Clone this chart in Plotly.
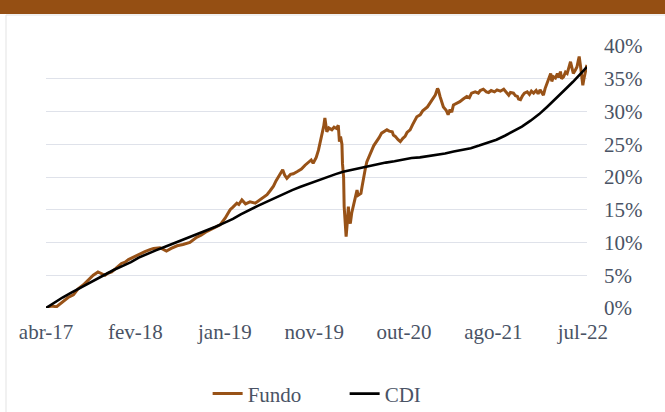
import pandas as pd
import plotly.graph_objects as go

# ---------------- data ----------------
tick_labels = ["abr-17", "fev-18", "jan-19", "nov-19", "out-20", "ago-21", "jul-22"]
tick_dates = ["2017-04-03", "2018-02-17", "2019-01-03", "2019-11-19",
              "2020-10-05", "2021-08-21", "2022-07-07"]

cdi_dates = ["2017-04-03", "2017-05-01", "2017-06-01", "2017-07-01", "2017-08-01", "2017-09-01",
             "2017-10-01", "2017-11-01", "2017-12-01", "2018-01-01", "2018-02-01", "2018-03-01",
             "2018-04-01", "2018-05-01", "2018-06-01", "2018-07-01", "2018-08-01", "2018-09-01",
             "2018-10-01", "2018-11-01", "2018-12-01", "2019-01-01", "2019-02-01", "2019-03-01",
             "2019-04-01", "2019-05-01", "2019-06-01", "2019-07-01", "2019-08-01", "2019-09-01",
             "2019-10-01", "2019-11-01", "2019-12-01", "2020-01-01", "2020-02-01", "2020-03-01",
             "2020-04-01", "2020-05-01", "2020-06-01", "2020-07-01", "2020-08-01", "2020-09-01",
             "2020-10-01", "2020-11-01", "2020-12-01", "2021-01-01", "2021-02-01", "2021-03-01",
             "2021-04-01", "2021-05-01", "2021-06-01", "2021-07-01", "2021-08-01", "2021-09-01",
             "2021-10-01", "2021-11-01", "2021-12-01", "2022-01-01", "2022-02-01", "2022-03-01",
             "2022-04-01", "2022-05-01", "2022-06-01", "2022-07-01", "2022-07-22"]
cdi_values = [0.0, 0.8, 1.6, 2.3, 3.0, 3.8, 4.5, 5.1, 5.8, 6.4, 7.0, 7.7,
              8.3, 8.8, 9.3, 9.8, 10.3, 10.8, 11.3, 11.8, 12.4, 13.0, 13.6, 14.3,
              15.0, 15.6, 16.2, 16.8, 17.4, 18.0, 18.5, 19.0, 19.5, 20.0, 20.4, 20.8,
              21.1, 21.4, 21.6, 21.9, 22.2, 22.4, 22.7, 22.9, 23.0, 23.2, 23.4, 23.6,
              23.9, 24.1, 24.4, 24.8, 25.2, 25.7, 26.3, 27.0, 27.7, 28.6, 29.6, 30.7,
              31.9, 33.2, 34.5, 35.9, 36.8]

fundo_dates = ["2017-04-03", "2017-04-21", "2017-05-11", "2017-06-02", "2017-06-21", "2017-07-10",
               "2017-07-26", "2017-08-14", "2017-08-31", "2017-09-19", "2017-10-06", "2017-10-20",
               "2017-10-31", "2017-11-10", "2017-11-24", "2017-12-08", "2017-12-29", "2018-01-11",
               "2018-01-23", "2018-02-12", "2018-03-05", "2018-03-23", "2018-04-10", "2018-04-23",
               "2018-05-16", "2018-05-28", "2018-06-08", "2018-06-25", "2018-07-16", "2018-08-06",
               "2018-08-31", "2018-09-24", "2018-10-10", "2018-10-31", "2018-11-22", "2018-12-17",
               "2019-01-04", "2019-01-22", "2019-02-01", "2019-02-15", "2019-02-22", "2019-03-05",
               "2019-03-18", "2019-04-03", "2019-04-22", "2019-05-09", "2019-05-20", "2019-06-03",
               "2019-06-14", "2019-06-26", "2019-07-05", "2019-07-15", "2019-07-23", "2019-07-29",
               "2019-08-05", "2019-08-13", "2019-08-26", "2019-09-05", "2019-09-18", "2019-10-04",
               "2019-10-17", "2019-10-29", "2019-11-08", "2019-11-15", "2019-11-26", "2019-12-04",
               "2019-12-10", "2019-12-16", "2019-12-23", "2019-12-27", "2020-01-02", "2020-01-03",
               "2020-01-10", "2020-01-21", "2020-01-29", "2020-02-07", "2020-02-13", "2020-02-17",
               "2020-02-21", "2020-02-26", "2020-02-28", "2020-03-03", "2020-03-05", "2020-03-09",
               "2020-03-12", "2020-03-16", "2020-03-20", "2020-03-23", "2020-03-27", "2020-04-01",
               "2020-04-07", "2020-04-14", "2020-04-20", "2020-04-24", "2020-05-04", "2020-05-08",
               "2020-05-12", "2020-05-19", "2020-05-25", "2020-06-01", "2020-06-05", "2020-06-12",
               "2020-06-19", "2020-06-30", "2020-07-08", "2020-07-17", "2020-07-27", "2020-08-05",
               "2020-08-13", "2020-08-24", "2020-08-28", "2020-09-04", "2020-09-14", "2020-09-22",
               "2020-10-01", "2020-10-09", "2020-10-16", "2020-10-27", "2020-11-05", "2020-11-13",
               "2020-11-20", "2020-12-02", "2020-12-11", "2020-12-28", "2021-01-07", "2021-01-15",
               "2021-01-25", "2021-02-02", "2021-02-05", "2021-02-11", "2021-02-17", "2021-02-23",
               "2021-03-05", "2021-03-12", "2021-03-19", "2021-03-25", "2021-03-31", "2021-04-12",
               "2021-04-23", "2021-05-05", "2021-05-18", "2021-05-27", "2021-06-04", "2021-06-17",
               "2021-06-28", "2021-07-05", "2021-07-16", "2021-07-27", "2021-08-04", "2021-08-13",
               "2021-08-25", "2021-09-03", "2021-09-15", "2021-09-27", "2021-10-05", "2021-10-15",
               "2021-10-21", "2021-11-01", "2021-11-08", "2021-11-15", "2021-11-19", "2021-11-26",
               "2021-12-03", "2021-12-10", "2021-12-20", "2021-12-28", "2022-01-04", "2022-01-12",
               "2022-01-21", "2022-01-28", "2022-02-04", "2022-02-10", "2022-02-16", "2022-02-22",
               "2022-03-01", "2022-03-08", "2022-03-14", "2022-03-18", "2022-03-24", "2022-03-31",
               "2022-04-07", "2022-04-12", "2022-04-18", "2022-04-22", "2022-04-29", "2022-05-06",
               "2022-05-12", "2022-05-18", "2022-05-24", "2022-05-30", "2022-06-03", "2022-06-10",
               "2022-06-16", "2022-06-21", "2022-06-24", "2022-06-28", "2022-07-01", "2022-07-05",
               "2022-07-07", "2022-07-11", "2022-07-15", "2022-07-20", "2022-07-22"]
fundo_values = [0.0, 0.3, 0.2, 1.0, 1.6, 2.0,
                2.9, 3.5, 4.2, 5.0, 5.5, 5.2,
                5.0, 5.3, 5.5, 6.0, 6.8, 7.0,
                7.4, 7.8, 8.3, 8.6, 8.9, 9.1,
                9.2, 8.9, 8.7, 9.1, 9.5, 9.7,
                10.0, 10.8, 11.1, 11.7, 12.2, 12.7,
                13.7, 15.0, 15.4, 16.0, 15.8, 16.5,
                15.9, 16.2, 16.0, 16.5, 16.8, 17.3,
                17.9, 18.6, 19.4, 20.2, 20.6, 21.1,
                20.3, 19.8, 20.4, 20.5, 20.8, 21.2,
                21.8, 22.3, 22.6, 22.1, 23.0, 24.1,
                25.2, 26.4, 27.8, 29.0, 27.5, 26.9,
                27.5, 27.2, 27.6, 27.4, 27.9, 25.4,
                26.2, 25.0, 22.0, 20.0, 15.5, 12.8,
                10.9, 13.0, 15.5, 13.5, 12.9, 14.5,
                15.5, 16.8, 18.0, 17.2, 17.5, 18.5,
                19.6, 21.1, 22.3, 23.1, 23.5, 24.1,
                24.8, 25.4, 26.0, 26.7, 26.9, 27.2,
                27.0, 26.9, 26.4, 26.2, 25.7, 25.4,
                25.9, 26.2, 26.8, 27.2, 28.0, 28.7,
                29.2, 29.5, 30.1, 30.7, 31.3, 31.9,
                32.5, 33.5, 33.3, 32.3, 31.5, 30.7,
                30.2, 29.5, 30.3, 29.9, 31.0, 31.2,
                31.5, 31.9, 32.3, 32.1, 32.8, 33.0,
                32.8, 33.2, 33.4, 33.0, 32.9, 33.2,
                33.0, 33.3, 33.1, 33.4, 33.0, 32.5,
                32.9, 32.8, 32.4, 32.3, 31.9, 31.8,
                32.4, 32.8, 33.0, 32.6, 33.1, 32.8,
                33.2, 32.7, 33.3, 32.8, 32.5, 33.5,
                34.3, 35.1, 35.8, 34.6, 35.3, 35.1,
                35.8, 35.2, 36.1, 35.0, 35.3, 36.0,
                35.8, 36.7, 37.6, 36.5, 35.8, 36.3,
                36.8, 37.8, 38.4, 37.2, 36.1, 35.0,
                34.0, 35.0, 36.1, 36.8, 37.1]

# ---------------- figure ----------------
W, H = 665, 412
ML, MR, MT, MB = 46, 78, 46, 104
PW, PH = W - ML - MR, H - MT - MB

def px_x(p):
    return (p - ML) / PW

def px_y(p):
    return (H - MB - p) / PH

FONT = "Liberation Serif"
TXT = "#4a5365"
BROWN = "#985217"

fig = go.Figure()
fig.add_trace(go.Scatter(x=pd.to_datetime(fundo_dates), y=fundo_values, mode="lines",
                         name="Fundo", line=dict(color=BROWN, width=3)))
fig.add_trace(go.Scatter(x=pd.to_datetime(cdi_dates), y=cdi_values, mode="lines",
                         name="CDI", line=dict(color="#000000", width=2.6)))

fig.update_layout(
    width=W, height=H,
    margin=dict(l=ML, r=MR, t=MT, b=MB, pad=0, autoexpand=False),
    paper_bgcolor="white", plot_bgcolor="white",
    font=dict(family=FONT, size=21, color=TXT),
    showlegend=True,
    legend=dict(orientation="h", x=0.552, xanchor="center", y=-0.328, yanchor="middle",
                font=dict(family=FONT, size=21, color=TXT), itemwidth=30,
                entrywidth=92, entrywidthmode="pixels",
                tracegroupgap=0, bgcolor="rgba(0,0,0,0)"),
    xaxis=dict(type="date", range=[fundo_dates[0], fundo_dates[-1]],
               tickvals=tick_dates, ticktext=tick_labels, showgrid=False,
               zeroline=False, showline=False, ticks="", ticklabelstandoff=9,
               automargin=False,
               tickfont=dict(family=FONT, size=21, color=TXT)),
    yaxis=dict(range=[0, 40], dtick=5, tick0=0, ticksuffix="%", side="right",
               showgrid=True, gridcolor="#dfe2ea", gridwidth=1, zeroline=False,
               showline=False, ticks="", ticklabelstandoff=16, automargin=False,
               tickfont=dict(family=FONT, size=21, color=TXT)),
    shapes=[
        dict(type="rect", xref="paper", yref="paper", x0=px_x(6), x1=px_x(700),
             y0=px_y(15), y1=px_y(430), line=dict(color="#e3e3e3", width=1),
             fillcolor="rgba(0,0,0,0)", layer="below"),
        dict(type="rect", xref="paper", yref="paper", x0=px_x(0), x1=px_x(665),
             y0=px_y(0), y1=px_y(14), line=dict(width=0), fillcolor="#954f13",
             layer="above"),
    ],
)

fig.write_html("out.html", config={"displayModeBar": False},
               post_script="document.body.style.margin='0';document.body.style.overflow='hidden';")
